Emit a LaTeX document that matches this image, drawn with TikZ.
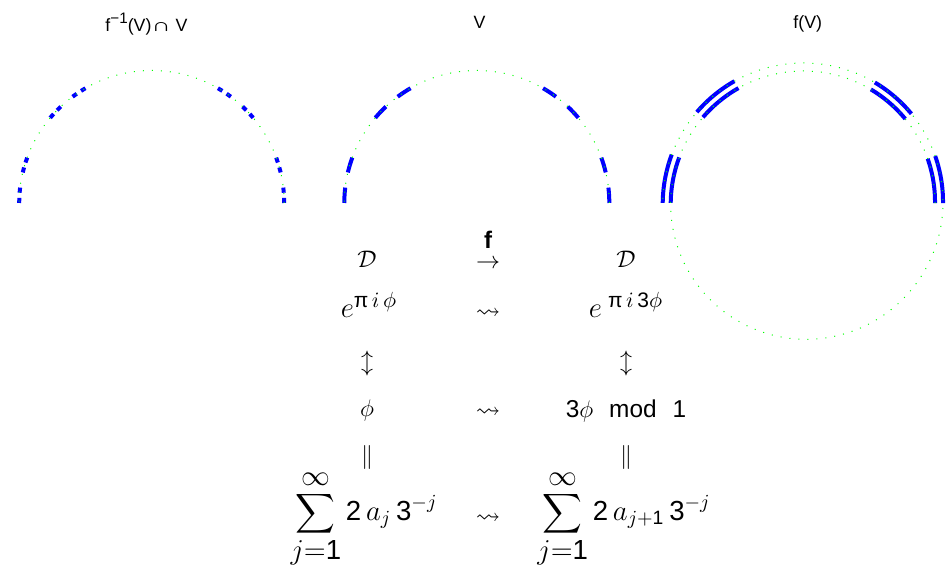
\documentclass[tikz,border=0pt]{standalone}
\usepackage{amsmath,amssymb,graphicx}
\usepackage{fontspec}
\newfontfamily\titlefont{Liberation Sans}
\newcommand{\sfnum}[1]{\text{\titlefont #1}}
\newcommand{\uppi}{\text{\titlefont π}}
\definecolor{plotblue}{RGB}{0,0,255}
\definecolor{plotgreen}{RGB}{0,255,0}
\usetikzlibrary{positioning}

\begin{document}
\begin{tikzpicture}[x=0.5pt, y=0.5pt]
    \tikzset{gdots/.style={draw=plotgreen, line width=0.5pt, dash pattern=on 0.5pt off 4pt},
      cset/.style={draw=plotblue, line width=2pt},
      titletxt/.style={font=\titlefont\fontsize{8.9}{10}\selectfont, anchor=base, inner sep=0pt},
      mathtxt/.style={font=\fontsize{12.2}{14}\selectfont, inner sep=0pt},
      bigmath/.style={font=\fontsize{15}{17}\selectfont, inner sep=0pt},
      summath/.style={font=\fontsize{13.8}{16}\selectfont, inner sep=0pt}}
    \useasboundingbox (0,0) rectangle (951,565);

    % Circle centres
    \coordinate (cL) at (151.7,362);
    \coordinate (cM) at (476.8,362);
    \coordinate (cR) at (804.85,361.85);

    % Titles
    \node[titletxt] (tL) at (146.5,533.5) {f\raisebox{4pt}{\fontsize{7.6}{8}\selectfont −1}(V)\scalebox{1.5}[1]{∩}\ V};
    \node[titletxt] (tM) at (479.5,536.7) {V};
    \node[titletxt] (tR) at (807.7,536.7) {f(V)};

    % Left: f^{-1}(V) cap V
    \foreach \k in {0,2,6,8,18,20,24,26,54,56,60,62,72,74,78,80}
      \draw[cset] (cL) ++({\k*180/81}:132.5) arc[start angle={\k*180/81}, delta angle={180/81}, radius=132.5];
    \draw[gdots] (cL) ++(0:132.5) arc[start angle=0, end angle=180, radius=132.5];

    % Middle: V
    \foreach \k in {0,2,6,8,18,20,24,26}
      \draw[cset] (cM) ++({\k*180/27}:132.5) arc[start angle={\k*180/27}, delta angle={180/27}, radius=132.5];
    \draw[gdots] (cM) ++(0:132.5) arc[start angle=0, end angle=180, radius=132.5];

    % Right: f(V) on the spiral
    \foreach \k in {0,2,6,8,18,20,24,26}{
      \pgfmathsetmacro\ta{\k/27}
      \pgfmathsetmacro\tb{(\k+1)/27}
      \draw[cset, shift={(cR)}] plot[domain=\ta:\tb, samples=20, variable=\t] ({540*\t}:{130.15+12*\t});
    }
    \draw[gdots, shift={(cR)}] plot[domain=0:1, samples=400, variable=\t] ({540*\t}:{130.15+12*\t});

    % Row 1: D -> D
    \node[mathtxt] (d1) at (367,306) {$\mathcal{D}$};
    \node[mathtxt] (fmap) at (488,301) {$\rightarrow$};
    \node[font=\titlefont\bfseries\fontsize{12}{14}\selectfont, inner sep=0pt] (fname) at (488,325) {f};
    \node[mathtxt] (d2) at (626,306) {$\mathcal{D}$};

    % Row 2: exponentials
    \node[bigmath] (e1) at (369,260) {$e^{\uppi\,i\,\phi}$};
    \node[mathtxt] (w1) at (488,251) {$\leadsto$};
    \node[bigmath] (e2) at (626,260) {$e^{\;\uppi\,i\,\sfnum{3}\phi}$};

    % Row 3
    \node[mathtxt] (u1) at (367,201) {$\updownarrow$};
    \node[mathtxt] (u2) at (626,201) {$\updownarrow$};

    % Row 4: angles
    \node[mathtxt] (p1) at (367,154) {$\phi$};
    \node[mathtxt] (w2) at (488,152) {$\leadsto$};
    \node[mathtxt] (p2) at (626,154) {$\sfnum{3}\phi\ \ \sfnum{mod}\ \ \sfnum{1}$};

    % Row 5
    \node[mathtxt] (q1) at (367,107) {$\|$};
    \node[mathtxt] (q2) at (626,107) {$\|$};

    % Row 6: ternary expansions
    \node[summath] (s1) at (364,46) {$\displaystyle\sum_{\textstyle j{=}\sfnum{1}}^{\textstyle\infty}\sfnum{2}\,a_j\,\sfnum{3}^{-j}$};
    \node[mathtxt] (w3) at (488,46) {$\leadsto$};
    \node[summath] (s2) at (624,46) {$\displaystyle\sum_{\textstyle j{=}\sfnum{1}}^{\textstyle\infty}\sfnum{2}\,a_{j+\sfnum{1}}\,\sfnum{3}^{-j}$};
  \end{tikzpicture}
\end{document}
